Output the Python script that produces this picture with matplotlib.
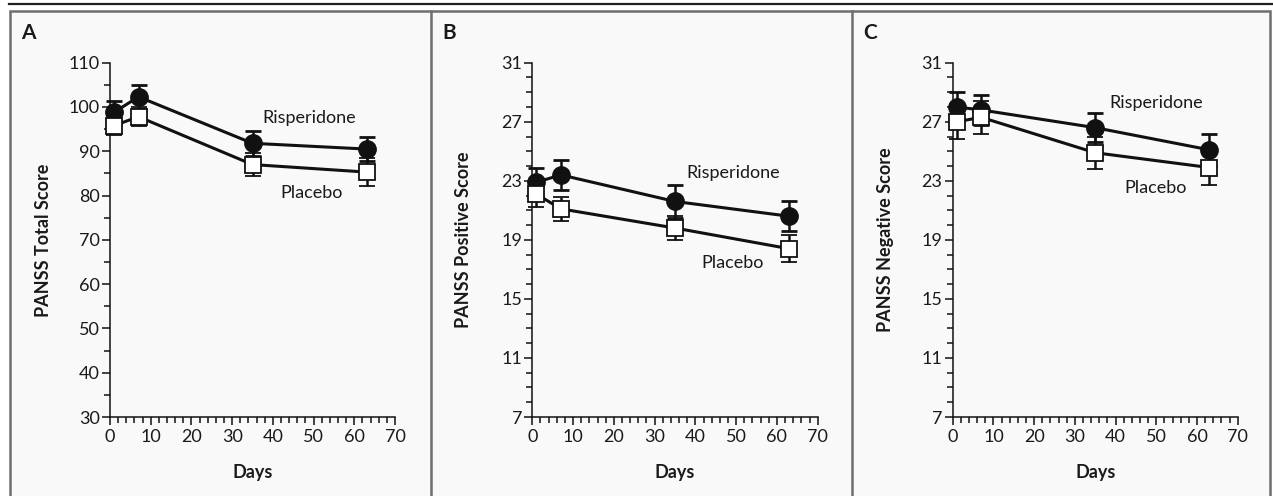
import matplotlib
matplotlib.use("Agg")
import matplotlib.pyplot as plt
from matplotlib.patches import Rectangle
from matplotlib.lines import Line2D
from matplotlib.ticker import MultipleLocator, FixedLocator

plt.rcParams['font.family'] = ['Lato', 'DejaVu Sans']

# ---- data ----
days = [1, 7, 35, 63]

total_risp = [98.8, 102.3, 91.8, 90.5]
total_risp_err = [2.6, 2.7, 2.8, 2.7]
total_plac = [95.8, 97.8, 87.0, 85.3]
total_plac_err = [2.2, 2.2, 2.6, 3.1]

pos_risp = [22.9, 23.4, 21.6, 20.6]
pos_risp_err = [1.0, 1.0, 1.1, 1.0]
pos_plac = [22.1, 21.1, 19.8, 18.4]
pos_plac_err = [0.9, 0.8, 0.8, 0.9]

neg_risp = [28.0, 27.8, 26.6, 25.1]
neg_risp_err = [1.0, 1.0, 1.0, 1.1]
neg_plac = [27.0, 27.3, 24.9, 23.9]
neg_plac_err = [1.2, 1.1, 1.1, 1.2]

x_ticks = [0, 10, 20, 30, 40, 50, 60, 70]
y_ticks_total = [30, 40, 50, 60, 70, 80, 90, 100, 110]
y_ticks_sub = [7, 11, 15, 19, 23, 27, 31]

panel_letters = ['A', 'B', 'C']
y_labels = ['PANSS Total Score', 'PANSS Positive Score', 'PANSS Negative Score']
x_label = 'Days'
series_names = ['Risperidone', 'Placebo']

W, H = 1273, 496
fig = plt.figure(figsize=(W / 100, H / 100), dpi=100)
fig.patch.set_facecolor('white')

def fx(px):
    return px / W

def fy(py):
    return 1 - py / H

# top rule
fig.add_artist(Line2D([fx(9), fx(1273)], [fy(3.5), fy(3.5)], color='#222222', lw=1.6, zorder=-5))
# panel background and frame
bg = Rectangle((fx(10), fy(500)), fx(1270) - fx(10), fy(11) - fy(500),
               facecolor='#f9f9f9', edgecolor='#6e6e6e', lw=1.8, zorder=-10)
fig.add_artist(bg)
for xd in [430.5, 852]:
    fig.add_artist(Line2D([fx(xd), fx(xd)], [fy(11), fy(500)], color='#6e6e6e', lw=1.8, zorder=-5))

panels = [
    dict(left=110, right=395, yticks=y_ticks_total, minor=5,
         risp=total_risp, risp_e=total_risp_err, plac=total_plac, plac_e=total_plac_err,
         rtxt=(48.9, 97.5), ptxt=(49.4, 80.6), letter_x=21, ylab_x=-0.205),
    dict(left=532.3, right=817.7, yticks=y_ticks_sub, minor=1,
         risp=pos_risp, risp_e=pos_risp_err, plac=pos_plac, plac_e=pos_plac_err,
         rtxt=(49.2, 23.5), ptxt=(49.2, 17.4), letter_x=442, ylab_x=-0.212),
    dict(left=952.7, right=1237.7, yticks=y_ticks_sub, minor=1,
         risp=neg_risp, risp_e=neg_risp_err, plac=neg_plac, plac_e=neg_plac_err,
         rtxt=(49.9, 28.3), ptxt=(49.8, 22.5), letter_x=863, ylab_x=-0.207),
]

top_px, bot_px = 62.7, 417.0
txtcol = '#1a1a1a'

for i, p in enumerate(panels):
    ax = fig.add_axes([fx(p['left']), fy(bot_px), fx(p['right']) - fx(p['left']),
                       (bot_px - top_px) / H])
    ax.set_facecolor('none')
    ax.set_xlim(x_ticks[0], x_ticks[-1])
    ax.set_ylim(p['yticks'][0], p['yticks'][-1])
    for s in ['top', 'right']:
        ax.spines[s].set_visible(False)
    for s in ['left', 'bottom']:
        ax.spines[s].set_linewidth(1.1)
        ax.spines[s].set_color('#111111')
    ax.xaxis.set_major_locator(FixedLocator(x_ticks))
    ax.xaxis.set_minor_locator(MultipleLocator(2))
    ax.yaxis.set_major_locator(FixedLocator(p['yticks']))
    ax.yaxis.set_minor_locator(MultipleLocator(p['minor']))
    ax.tick_params(which='major', length=5.8, width=1.1, color='#111111',
                   labelsize=13, labelcolor=txtcol, pad=1.5)
    ax.tick_params(which='minor', length=4.0, width=1.1, color='#111111')
    ax.tick_params(axis='x', which='major', pad=3)

    # error bars + lines
    ax.errorbar(days, p['risp'], yerr=p['risp_e'], color='#111111', lw=2.2,
                elinewidth=1.8, capsize=5.6, capthick=2.0, marker='o', ms=12.5,
                mfc='#111111', mec='#111111', zorder=3, clip_on=False)
    ax.errorbar(days, p['plac'], yerr=p['plac_e'], color='#111111', lw=2.2,
                elinewidth=1.8, capsize=5.6, capthick=2.0, marker='s', ms=11,
                mfc='white', mec='#111111', mew=1.3, zorder=4, clip_on=False)

    ax.text(*p['rtxt'], series_names[0], ha='center', va='center', fontsize=13, color=txtcol)
    ax.text(*p['ptxt'], series_names[1], ha='center', va='center', fontsize=13, color=txtcol)

    ax.set_ylabel(y_labels[i], fontsize=13, fontweight='bold', color=txtcol)
    ax.yaxis.set_label_coords(p['ylab_x'], 0.5)
    ax.set_xlabel(x_label, fontsize=13, fontweight='bold', color=txtcol)
    ax.xaxis.set_label_coords(0.5, -0.133)

    fig.text(fx(p['letter_x']), fy(33), panel_letters[i], ha='left', va='center',
             fontsize=15, fontweight='bold', color=txtcol)

fig.savefig('out.png', dpi=100, facecolor='white')
